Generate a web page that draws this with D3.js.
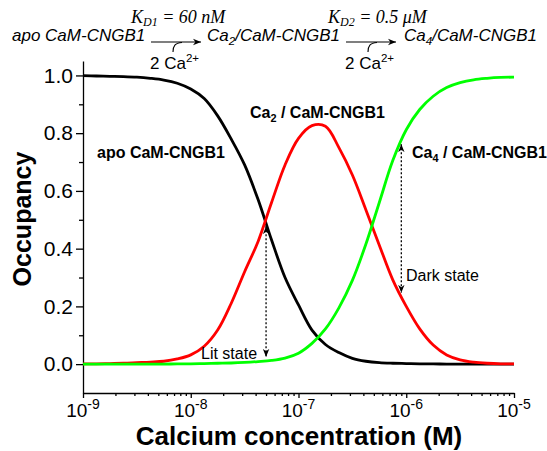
<!DOCTYPE html>
<html>
<head>
<meta charset="utf-8">
<script src="https://cdn.jsdelivr.net/npm/d3@7"></script>
<style>
  body { margin: 0; background: #fff; }
  svg { display: block; font-family: "Liberation Sans", Arial, sans-serif; }
</style>
</head>
<body>
<script>
// log10 of calcium concentration (M), read every 1/8 decade
const logCa = [-9, -8.875, -8.75, -8.625, -8.5, -8.375, -8.25, -8.125, -8,
  -7.875, -7.75, -7.625, -7.5, -7.375, -7.25, -7.125, -7,
  -6.875, -6.75, -6.625, -6.5, -6.375, -6.25, -6.125, -6,
  -5.875, -5.75, -5.625, -5.5, -5.375, -5.25, -5.125, -5];

const apo = [0.999, 0.998, 0.997, 0.996, 0.994, 0.990, 0.984, 0.973, 0.953,
  0.920, 0.860, 0.780, 0.690, 0.570, 0.430, 0.300, 0.205,
  0.118, 0.068, 0.040, 0.020, 0.010, 0.005, 0.003, 0.002,
  0.001, 0.001, 0, 0, 0, 0, 0, 0];

const ca2 = [0.001, 0.001, 0.002, 0.003, 0.005, 0.007, 0.010, 0.018, 0.032,
  0.062, 0.118, 0.210, 0.320, 0.425, 0.560, 0.690, 0.782,
  0.826, 0.824, 0.750, 0.655, 0.535, 0.412, 0.292, 0.200,
  0.122, 0.066, 0.032, 0.015, 0.007, 0.003, 0.001, 0.001];

const ca4 = [0, 0, 0, 0, 0, 0, 0, 0.001, 0.001,
  0.002, 0.003, 0.004, 0.006, 0.009, 0.013, 0.021, 0.038,
  0.072, 0.122, 0.195, 0.290, 0.415, 0.560, 0.705, 0.812,
  0.882, 0.928, 0.958, 0.975, 0.985, 0.990, 0.993, 0.994];

const seriesColors = ["#000000", "#ff0000", "#00ff00"];

// dotted double arrows: Lit state, Dark state
const arrowConc = [5e-8, 9e-7];
const arrowTop = [0.478, 0.762];
const arrowBottom = [0.025, 0.247];

const yMajor = [0, 0.2, 0.4, 0.6, 0.8, 1.0];
const yMinor = [0.1, 0.3, 0.5, 0.7, 0.9];
const xDecades = [-9, -8, -7, -6, -5];

const W = 547, H = 451;
const svg = d3.select("body").append("svg").attr("width", W).attr("height", H);

const x = d3.scaleLog().domain([1e-9, 1e-5]).range([83, 514]);
const y = d3.scaleLinear().domain([-0.1, 1.05]).range([393, 61]);

const defs = svg.append("defs");
defs.append("marker")
  .attr("id", "head")
  .attr("viewBox", "-10 -5 10 10")
  .attr("refX", 0).attr("refY", 0)
  .attr("markerWidth", 8).attr("markerHeight", 8)
  .attr("markerUnits", "userSpaceOnUse")
  .attr("orient", "auto-start-reverse")
  .append("path").attr("d", "M-10,-4L0,0L-10,4L-7,0Z").attr("fill", "#000");

// y axis
const gy = svg.append("g").attr("transform", "translate(83,0)")
  .call(d3.axisLeft(y).tickValues(yMajor).tickSize(7).tickSizeOuter(0)
    .tickFormat(d3.format(".1f")));
svg.append("g").attr("transform", "translate(83,0)")
  .call(d3.axisLeft(y).tickValues(yMinor).tickSize(4).tickSizeOuter(0).tickFormat(""))
  .select(".domain").remove();
gy.selectAll("text").attr("font-size", 21).attr("fill", "#000")
  .attr("font-family", "Liberation Sans, Arial, sans-serif");

// x axis
const xMinor = [];
xDecades.slice(0, -1).forEach(d => { for (let k = 2; k <= 9; k++) xMinor.push(k * Math.pow(10, d)); });
svg.append("g").attr("transform", "translate(0,393)")
  .call(d3.axisBottom(x).tickValues(xDecades.map(d => Math.pow(10, d)))
    .tickSize(5).tickSizeOuter(0).tickFormat(""));
svg.append("g").attr("transform", "translate(0,393)")
  .call(d3.axisBottom(x).tickValues(xMinor).tickSize(3).tickSizeOuter(0).tickFormat(""))
  .select(".domain").remove();

svg.selectAll(".domain, .tick line").attr("stroke", "#000").attr("stroke-width", 1.3);

const xl = svg.append("g").selectAll("text").data(xDecades).join("text")
  .attr("x", d => x(Math.pow(10, d)))
  .attr("y", 417)
  .attr("text-anchor", "middle")
  .attr("font-size", 19);
xl.append("tspan").text("10");
xl.append("tspan").attr("dy", -8).attr("font-size", 14).text(d => d);

// axis titles
svg.append("text")
  .attr("transform", "translate(31,219) rotate(-90)")
  .attr("text-anchor", "middle")
  .attr("font-size", 25).attr("font-weight", "bold")
  .text("Occupancy");
svg.append("text")
  .attr("x", 299).attr("y", 445)
  .attr("text-anchor", "middle")
  .attr("font-size", 26).attr("font-weight", "bold")
  .text("Calcium concentration (M)");

// curves
const line = d3.line()
  .x(d => x(Math.pow(10, d[0])))
  .y(d => y(d[1]))
  .curve(d3.curveCatmullRom.alpha(0.5));
[apo, ca2, ca4].forEach((vals, i) => {
  svg.append("path")
    .datum(logCa.map((c, j) => [c, vals[j]]))
    .attr("d", line)
    .attr("fill", "none")
    .attr("stroke", seriesColors[i])
    .attr("stroke-width", 2.8);
});

// dotted arrows
arrowConc.forEach((c, i) => {
  svg.append("line")
    .attr("x1", x(c)).attr("x2", x(c))
    .attr("y1", y(arrowTop[i])).attr("y2", y(arrowBottom[i]))
    .attr("stroke", "#000").attr("stroke-width", 1.3)
    .attr("stroke-dasharray", "2,2")
    .attr("marker-start", "url(#head)")
    .attr("marker-end", "url(#head)");
});

// labels with a sub- or superscript
function subLabel(px, py, pre, sub, post, opts) {
  const t = svg.append("text").attr("x", px).attr("y", py)
    .attr("font-size", opts.size)
    .attr("font-weight", opts.weight || "normal")
    .attr("font-style", opts.style || "normal");
  t.append("tspan").text(pre);
  if (sub) {
    t.append("tspan").attr("dy", opts.sup ? -7 : 4).attr("font-size", opts.size * 0.68).text(sub);
    t.append("tspan").attr("dy", opts.sup ? 7 : -4).text(post);
  }
  return t;
}
subLabel(97, 158, "apo CaM-CNGB1", null, null, { size: 16, weight: "bold" });
subLabel(250, 118, "Ca", "2", " / CaM-CNGB1", { size: 16, weight: "bold" });
subLabel(412, 158, "Ca", "4", " / CaM-CNGB1", { size: 16, weight: "bold" });
svg.append("text").attr("x", 201).attr("y", 359).attr("font-size", 16).text("Lit state");
svg.append("text").attr("x", 406).attr("y", 281).attr("font-size", 16).text("Dark state");

// reaction scheme at top
subLabel(12, 41, "apo CaM-CNGB1", null, null, { size: 17, style: "italic" });
subLabel(207, 41, "Ca", "2", "/CaM-CNGB1", { size: 17, style: "italic" });
subLabel(404, 41, "Ca", "4", "/CaM-CNGB1", { size: 17, style: "italic" });

const kd = [[131, "D1", " = 60 nM"], [328, "D2", " = 0.5 \u03bcM"]];
kd.forEach(k => {
  const t = svg.append("text").attr("x", k[0]).attr("y", 23)
    .attr("font-family", "Liberation Serif, Times New Roman, serif")
    .attr("font-style", "italic").attr("font-size", 18);
  t.append("tspan").text("K");
  t.append("tspan").attr("dy", 3).attr("font-size", 12).text(k[1]);
  t.append("tspan").attr("dy", -3).text(k[2]);
});

[[151, 201], [346, 396]].forEach(a => {
  svg.append("line").attr("x1", a[0]).attr("x2", a[1]).attr("y1", 42).attr("y2", 42)
    .attr("stroke", "#000").attr("stroke-width", 1.1)
    .attr("marker-end", "url(#head)");
  const cx = (a[0] + a[1]) / 2;
  svg.append("path")
    .attr("d", `M${cx - 3},52 C${cx - 3},46 ${cx - 1},43 ${cx + 6},42.5`)
    .attr("fill", "none").attr("stroke", "#000").attr("stroke-width", 1.1);
  subLabel(cx - 26, 69, "2 Ca", "2+", "", { size: 17, sup: true });
});
</script>
</body>
</html>
